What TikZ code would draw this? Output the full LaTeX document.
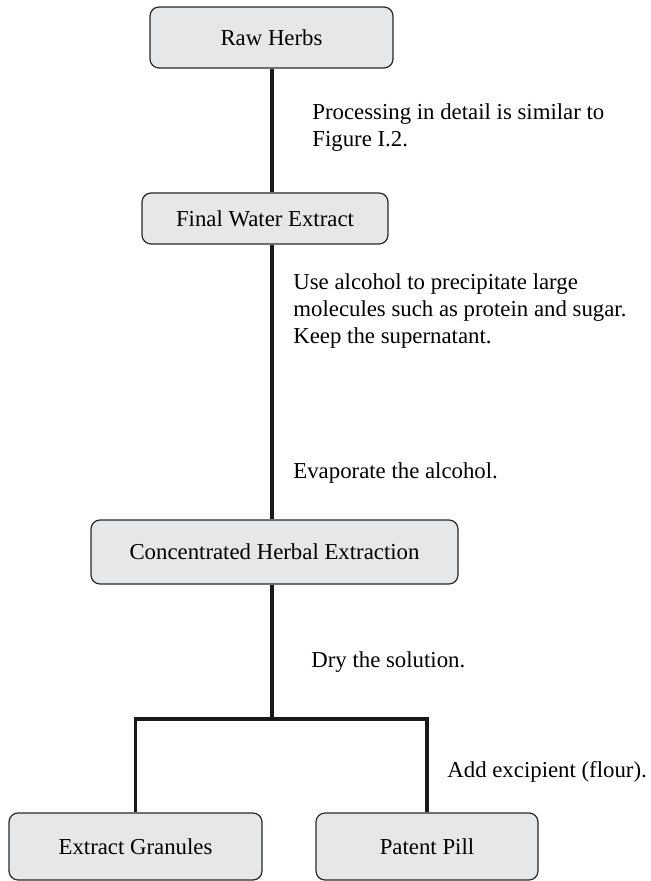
\documentclass[tikz,border=0pt]{standalone}
\usepackage{fontspec}
\setmainfont{Liberation Serif}
\definecolor{boxgray}{RGB}{230,231,232}
\definecolor{edgegray}{RGB}{40,40,40}
\tikzset{
  stagebox/.style={draw=edgegray, line width=0.6pt, fill=boxgray, rounded corners=4.5pt,
    font=\fontsize{11.4pt}{13.5pt}\selectfont, inner sep=0pt},
  stepnote/.style={anchor=west, align=left, inner sep=0pt,
    font=\fontsize{11.4pt}{13.5pt}\selectfont},
  flowline/.style={line width=1.7pt, color=black!90}
}
\begin{document}
\begin{tikzpicture}[x=0.5pt, y=-0.5pt]
\useasboundingbox (0, 0) rectangle (650, 881);

\node (raw) at (271.5, 37.5) [stagebox, minimum width=121.5pt, minimum height=30.5pt] {Raw Herbs};
\node (water) at (265, 218.5) [stagebox, minimum width=123pt, minimum height=25.5pt] {Final Water Extract};
\node (conc) at (274.5, 552) [stagebox, minimum width=183.5pt, minimum height=32pt] {Concentrated Herbal Extraction};
\node (granules) at (135.5, 846.5) [stagebox, minimum width=126.5pt, minimum height=33.5pt] {Extract Granules};
\node (pill) at (427, 846.5) [stagebox, minimum width=111pt, minimum height=33.5pt] {Patent Pill};
\coordinate (fork) at (272, 719);

\draw [flowline] (raw.south -| fork) -- (fork |- water.north);
\draw [flowline] (water.south -| fork) -- (fork |- conc.north);
\draw [flowline] (conc.south -| fork) -- (fork);
\draw [flowline] (granules.north) |- (fork) -| (pill.north);

\node (noteproc) at (312, 128) [stepnote] {Processing in detail is similar to\\Figure I.2.};
\node (notealc) at (293, 311) [stepnote] {Use alcohol to precipitate large\\molecules such as protein and sugar.\\Keep the supernatant.};
\node (noteevap) at (293, 473) [stepnote] {Evaporate the alcohol.};
\node (notedry) at (311, 662) [stepnote] {Dry the solution.};
\node (noteflour) at (447, 772) [stepnote] {Add excipient (flour).};
\end{tikzpicture}
\end{document}
